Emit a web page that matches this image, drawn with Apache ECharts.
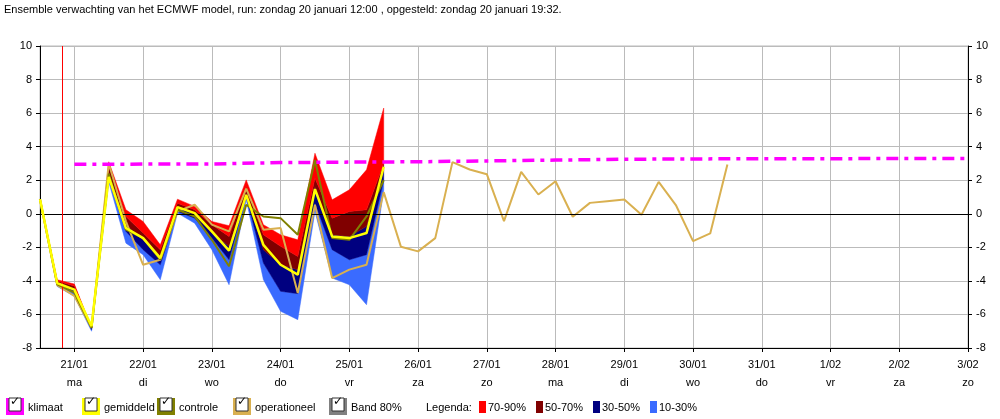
<!DOCTYPE html>
<html><head><meta charset="utf-8">
<script src="https://cdn.jsdelivr.net/npm/echarts@6/dist/echarts.min.js"></script>
<style>html,body{margin:0;background:#fff}#c{width:1000px;height:419px}</style>
</head><body><div id="c"></div>
<script>
// x in days since 20/01 00:00, 6-hourly steps from 20/01 12:00
const startDay = 0.5;
const step = 0.25;
const p90 = [0.87,-3.93,-4.19,-6.8,3.1,0.24,-0.46,-1.85,0.87,0.44,-0.46,-0.71,2.02,-0.65,-1.25,-1.55,3.61,0.83,1.43,2.62,6.3];
const p70 = [0.87,-4.0,-4.3,-6.8,2.9,-0.16,-1.15,-2.14,0.63,0.24,-0.65,-1.35,1.63,-1.25,-1.94,-2.54,2.12,-0.26,0.14,0.24,3.0];
const p50 = [0.87,-4.1,-4.5,-6.8,2.4,-0.65,-1.55,-2.54,0.44,-0.06,-1.15,-1.94,1.23,-2.14,-3.04,-3.33,1.63,-1.25,-1.35,-0.75,2.6];
const p30 = [0.87,-4.2,-4.65,-6.9,2.1,-1.05,-2.14,-3.04,0.14,-0.26,-1.45,-2.74,1.03,-2.94,-4.62,-4.76,0.63,-2.14,-2.74,-2.44,2.0];
const p10 = [0.87,-4.33,-4.92,-7.0,1.9,-1.75,-2.44,-3.93,0.04,-0.56,-2.14,-4.23,0.83,-3.93,-5.81,-6.31,0.14,-3.83,-4.23,-5.42,1.4];
const gemiddeld = [0.87,-4.13,-4.52,-6.7,2.2,-0.85,-1.45,-2.64,0.4,0.04,-1.05,-2.2,1.13,-1.85,-3.04,-3.63,1.47,-1.35,-1.45,-1.15,2.8];
const controle = [0.87,-4.2,-4.7,-6.8,2.4,-0.95,-1.45,-2.74,0.24,-0.16,-1.55,-3.13,0.54,-0.16,-0.26,-1.25,3.21,-1.45,-1.55,-0.16,2.0];
const operationeel = [0.87,-4.25,-4.9,-6.8,3.0,-0.45,-3.04,-2.74,0.14,0.54,-0.65,-1.05,1.5,-0.95,-0.85,-4.72,0.54,-3.83,-3.33,-3.04,1.29,
  -1.96,-2.24,-1.45,3.08,2.64,2.36,-0.44,2.5,1.15,1.94,-0.18,0.65,0.75,0.85,-0.06,1.9,0.52,-1.63,-1.17,2.94];
const klimaatDays = [1,2,3,4,5,6,7,8,9,10,11,12,13,14];
const klimaat = [2.95,2.96,2.97,3.05,3.08,3.1,3.15,3.2,3.25,3.27,3.28,3.28,3.3,3.3];
const dayLabels = ['21/01','22/01','23/01','24/01','25/01','26/01','27/01','28/01','29/01','30/01','31/01','1/02','2/02','3/02'];
const weekdays = ['ma','di','wo','do','vr','za','zo','ma','di','wo','do','vr','za','zo'];
const nowDay = 0.83;
const FONT = '"Liberation Sans", Arial';

const xs = arr => arr.map((v, i) => [startDay + i * step, v]);
const bands = [
    [p10, p30, '#3a6bff'],
    [p30, p50, '#000080'],
    [p50, p70, '#800000'],
    [p70, p90, '#ff0000']
];
const line = (name, data, color, width, z) => ({
    name, type: 'line', data: xs(data), symbol: 'none', lineStyle: {color, width}, z
});

const chart = echarts.init(document.getElementById('c'));
const ticks = klimaatDays;
const yAxisCommon = {
    type: 'value', min: -8, max: 10, interval: 2,
    axisLine: {show: true, lineStyle: {color: '#000'}},
    axisTick: {show: true, length: 4, lineStyle: {color: '#000'}},
    axisLabel: {color: '#000', fontSize: 11, fontFamily: FONT}
};
const legendItems = [
    ['klimaat', '#ff00ff'], ['gemiddeld', '#ffff00'], ['controle', '#808000'],
    ['operationeel', '#d9b050'], ['Band 80%', '#808080']
];
const graphic = [{
    type: 'text', left: 4, top: 4,
    style: {text: 'Ensemble verwachting van het ECMWF model, run: zondag 20 januari 12:00 , opgesteld: zondag 20 januari 19:32.',
        font: '11px ' + FONT, fill: '#000'}
}];
let lx = 6;
const legendWidths = [76, 75, 76, 96, 80];
legendItems.forEach(([label, color], i) => {
    graphic.push({type: 'rect', shape: {x: lx, y: 398, width: 18, height: 17}, style: {fill: color}});
    graphic.push({type: 'rect', shape: {x: lx + 3, y: 398, width: 12, height: 13}, style: {fill: '#fff', stroke: '#333', lineWidth: 1}});
    graphic.push({type: 'text', x: lx + 4, y: 396, style: {text: '✓', font: 'bold 12px "DejaVu Sans"', fill: '#000'}});
    graphic.push({type: 'text', x: lx + 22, y: 402, style: {text: label, font: '11px ' + FONT, fill: '#000'}});
    lx += legendWidths[i];
});
graphic.push({type: 'text', x: 426, y: 402, style: {text: 'Legenda:', font: '11px ' + FONT, fill: '#000'}});
[['70-90%', '#ff0000'], ['50-70%', '#800000'], ['30-50%', '#000080'], ['10-30%', '#3a6bff']].forEach(([label, color], i) => {
    const bx = 479 + i * 57;
    graphic.push({type: 'rect', shape: {x: bx, y: 401, width: 7, height: 12}, style: {fill: color}});
    graphic.push({type: 'text', x: bx + 9, y: 402, style: {text: label, font: '11px ' + FONT, fill: '#000'}});
});

chart.setOption({
    animation: false,
    grid: {left: 40, right: 32, top: 46, bottom: 71, show: true, borderColor: '#bbb', borderWidth: 1},
    xAxis: {
        type: 'value', min: 0.5, max: 14,
        axisLine: {show: true, onZero: false, lineStyle: {color: '#000'}},
        axisTick: {show: true, customValues: ticks, length: 4, lineStyle: {color: '#000'}},
        axisLabel: {customValues: ticks, color: '#000', fontSize: 11, fontFamily: FONT, lineHeight: 18,
            formatter: v => dayLabels[v - 1] + '\n' + weekdays[v - 1]},
        splitLine: {show: true, lineStyle: {color: '#bbb'}}
    },
    yAxis: [
        Object.assign({}, yAxisCommon, {position: 'left', splitLine: {show: true, lineStyle: {color: '#bbb'}}}),
        Object.assign({}, yAxisCommon, {position: 'right', splitLine: {show: false}})
    ],
    graphic,
    series: [
        {
            name: 'Band 80%', type: 'custom', silent: true, z: 1,
            data: [0],
            renderItem: (params, api) => ({
                type: 'group',
                children: bands.map(([lo, hi, color]) => {
                    const upper = hi.map((v, i) => api.coord([startDay + i * step, v]));
                    const lower = lo.map((v, i) => api.coord([startDay + i * step, v])).reverse();
                    return {type: 'polygon', shape: {points: upper.concat(lower)}, style: {fill: color, stroke: color, lineWidth: 0.5}};
                })
            })
        },
        line('operationeel', operationeel, '#d9b050', 2, 3),
        line('controle', controle, '#808000', 2, 4),
        line('gemiddeld', gemiddeld, '#ffff00', 2.5, 5),
        {
            name: 'klimaat', type: 'line', symbol: 'none', z: 6,
            data: klimaatDays.map((d, i) => [d, klimaat[i]]),
            lineStyle: {color: '#ff00ff', width: 3.5, type: [12, 6, 4, 6]},
            markLine: {
                silent: true, symbol: 'none', label: {show: false},
                data: [
                    {yAxis: 0, lineStyle: {color: '#000', width: 1, type: 'solid'}},
                    {xAxis: nowDay, lineStyle: {color: '#ff0000', width: 1, type: 'solid'}}
                ]
            }
        }
    ]
});
</script></body></html>
